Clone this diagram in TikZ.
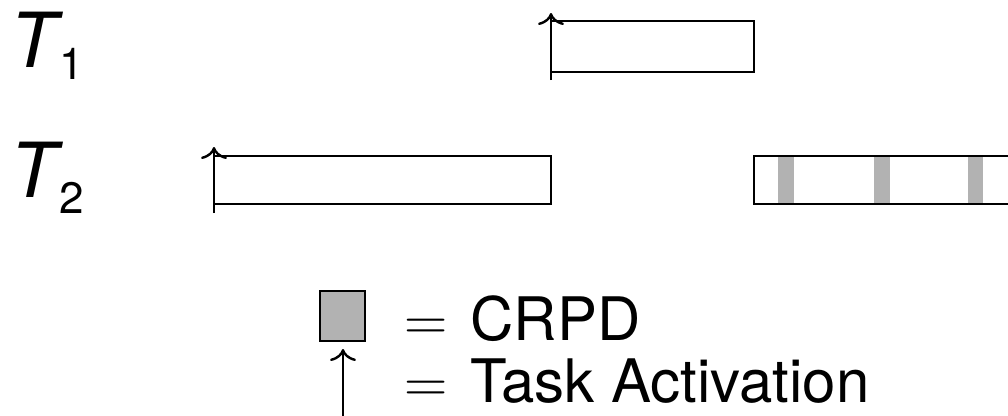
\documentclass[tikz,border=0pt]{standalone}
\usepackage{fontspec}
\setmainfont{TeX Gyre Heros}
\newfontfamily\eqfont{Latin Modern Roman}
\usetikzlibrary{arrows.meta}

\begin{document}
\begin{tikzpicture}[x=1pt,y=-1pt,
    task/.style={draw=black,line width=2.6pt},
    crpd/.style={fill=black!30},
    act/.style={draw=black,line width=2.4pt,-{To[length=12pt,width=26pt,line width=2.4pt]}},
    tlabel/.style={anchor=base west,inner sep=0pt,font=\fontsize{76}{80}\selectfont},
    legend/.style={anchor=base west,inner sep=0pt,font=\fontsize{60}{66}\selectfont}]
            \useasboundingbox (0,0) rectangle (1008,415);
            \clip (0,0) rectangle (1008,415);

            % release points
            \coordinate (r1) at (551,80);
            \coordinate (r1t) at (551,13);
            \coordinate (r2) at (214,213);
            \coordinate (r2t) at (214,147);

            % task labels
            \node[tlabel] (t1) at (10,67) {\textit{T}\kern-4pt\raisebox{-12pt}{\fontsize{44}{48}\selectfont 1}};
            \node[tlabel] (t2) at (10,197) {\textit{T}\kern-4pt\raisebox{-16pt}{\fontsize{44}{48}\selectfont 2}};

            % executions
            \draw[task] (551,21) rectangle (754,72);
            \draw[task] (214,156) rectangle (551,204);
            \fill[crpd] (778,157) rectangle (794,203);
            \fill[crpd] (874,157) rectangle (890,203);
            \fill[crpd] (968,157) rectangle (983,203);
            \draw[task] (754,156) rectangle (1020,204);

            \draw[act] (r1)--(r1t);
            \draw[act] (r2)--(r2t);

            % legend
            \draw[task,crpd] (320,291) rectangle (365,341);
            \coordinate (la) at (343,420);
            \coordinate (lat) at (343,349);
            \draw[act] (la)--(lat);
            \node[legend] (lcrpd) at (404,340) {{\eqfont=}\kern23pt CRPD};
            \node[legend] (lact) at (404,402) {{\eqfont=}\kern23pt Task Activation};

        \end{tikzpicture}
\end{document}
